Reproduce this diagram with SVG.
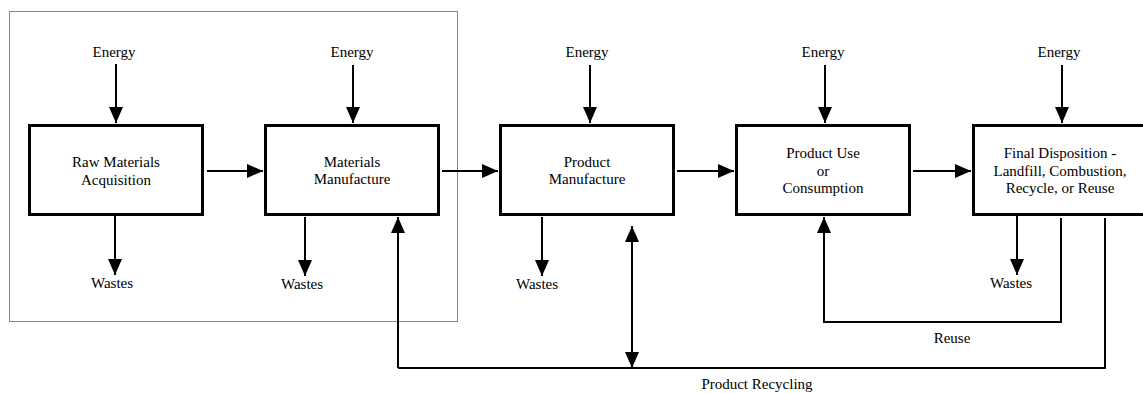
<svg xmlns="http://www.w3.org/2000/svg" width="1143" height="393" viewBox="0 0 1143 393">
<style>
text{font-family:'Liberation Serif','DejaVu Serif','Times New Roman',serif;font-size:15px;fill:#000;text-anchor:middle}
.box{fill:#fff;stroke:#000;stroke-width:3}
.ln{fill:none;stroke:#000;stroke-width:2}
.arr{fill:none;stroke:#000;stroke-width:2;marker-end:url(#ah)}
</style>
<defs>
<marker id="ah" viewBox="0 0 16 14" markerWidth="16" markerHeight="14" refX="16" refY="7" orient="auto-start-reverse" markerUnits="userSpaceOnUse">
<path d="M0,0 L16,7 L0,14 z" fill="#000"/>
</marker>
</defs>
<rect x="9.5" y="11.5" width="448" height="310" fill="none" stroke="#888" stroke-width="1"/>
<g font-family="Liberation Serif, DejaVu Serif, serif">
<g id="raw">
<rect class="box" x="29.5" y="125.5" width="173" height="89"/>
<text x="116" y="167">Raw Materials</text>
<text x="116" y="185">Acquisition</text>
</g>
<g id="matman">
<rect class="box" x="265.5" y="125.5" width="173" height="89"/>
<text x="352" y="167">Materials</text>
<text x="352" y="184">Manufacture</text>
</g>
<g id="prodman">
<rect class="box" x="500.5" y="125.5" width="173" height="89"/>
<text x="587" y="167">Product</text>
<text x="587" y="184">Manufacture</text>
</g>
<g id="use">
<rect class="box" x="736.5" y="125.5" width="173" height="89"/>
<text x="823" y="158">Product Use</text>
<text x="823" y="176">or</text>
<text x="823" y="193">Consumption</text>
</g>
<g id="final">
<rect class="box" x="973.5" y="125.5" width="200" height="89"/>
<text x="1060" y="158">Final Disposition -</text>
<text x="1060" y="176">Landfill, Combustion,</text>
<text x="1060" y="193">Recycle, or Reuse</text>
</g>
<g id="labels">
<text x="114" y="57">Energy</text>
<text x="352" y="57">Energy</text>
<text x="587" y="57">Energy</text>
<text x="823" y="57">Energy</text>
<text x="1059" y="57">Energy</text>
<text x="112" y="288">Wastes</text>
<text x="302" y="289">Wastes</text>
<text x="537" y="289">Wastes</text>
<text x="1011" y="288">Wastes</text>
<text x="952" y="343">Reuse</text>
<text x="757" y="389">Product Recycling</text>
</g>
</g>
<g id="connectors">
<line class="arr" x1="116" y1="64" x2="116" y2="123"/>
<line class="arr" x1="353" y1="65" x2="353" y2="123"/>
<line class="arr" x1="590" y1="65" x2="590" y2="123"/>
<line class="arr" x1="825" y1="65" x2="825" y2="123"/>
<line class="arr" x1="1062" y1="65" x2="1062" y2="123"/>
<line class="arr" x1="115" y1="216" x2="115" y2="275"/>
<line class="arr" x1="305" y1="217" x2="305" y2="276"/>
<line class="arr" x1="542" y1="217" x2="542" y2="276"/>
<line class="arr" x1="1017" y1="216" x2="1017" y2="275"/>
<line class="arr" x1="207" y1="171" x2="263" y2="171"/>
<line class="arr" x1="442" y1="171" x2="498" y2="171"/>
<line class="arr" x1="677" y1="171" x2="734" y2="171"/>
<line class="arr" x1="913" y1="171" x2="971" y2="171"/>
<path class="ln" d="M398,368 H1105 V218"/>
<line class="arr" x1="398" y1="368" x2="398" y2="217"/>
<line class="arr" x1="632" y1="226" x2="632" y2="368" style="marker-start:url(#ah)"/>
<path class="arr" d="M1061,218 V322 H824 V217"/>
</g>
</svg>
